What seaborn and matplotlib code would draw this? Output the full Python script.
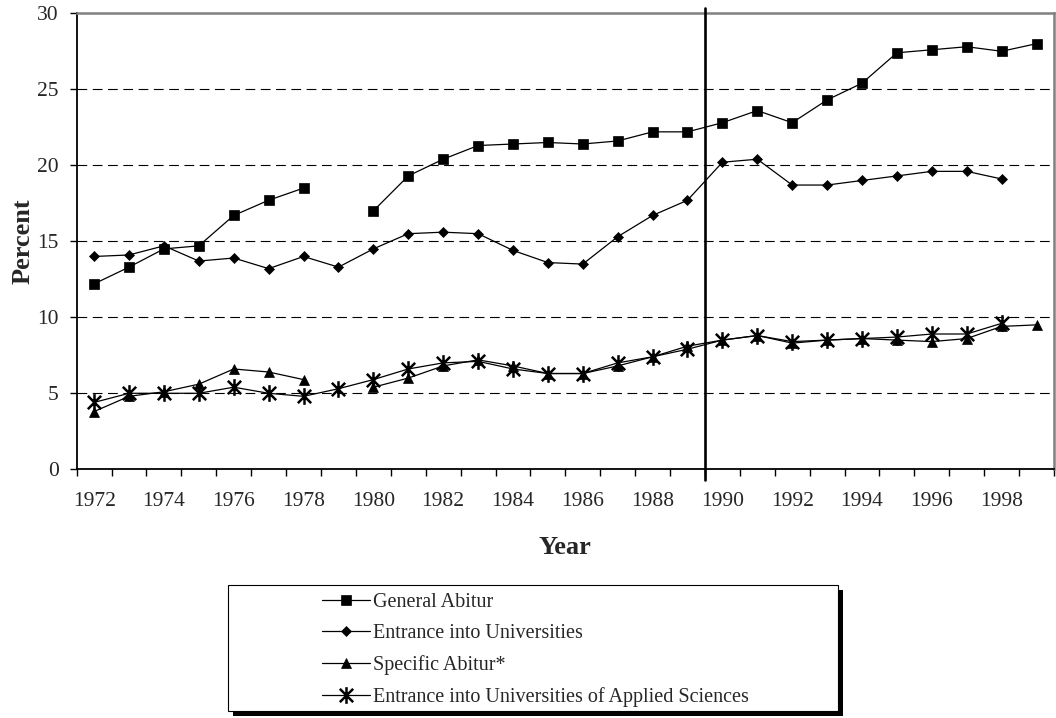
import numpy as np
import pandas as pd
import matplotlib
matplotlib.use("Agg")
import matplotlib.pyplot as plt
from matplotlib.path import Path
from matplotlib.lines import Line2D
from matplotlib.patches import Rectangle
import seaborn as sns

nan = np.nan

years = list(range(1972, 2000))
general_abitur = [12.2, 13.3, 14.5, 14.7, 16.7, 17.7, 18.5, nan, 17.0, 19.3,
                  20.4, 21.3, 21.4, 21.5, 21.4, 21.6, 22.2, 22.2, 22.8, 23.6,
                  22.8, 24.3, 25.4, 27.4, 27.6, 27.8, 27.5, 28.0]
entrance_universities = [14.0, 14.1, 14.7, 13.7, 13.9, 13.2, 14.0, 13.3, 14.5, 15.5,
                         15.6, 15.5, 14.4, 13.6, 13.5, 15.3, 16.7, 17.7, 20.2, 20.4,
                         18.7, 18.7, 19.0, 19.3, 19.6, 19.6, 19.1, nan]
specific_abitur = [3.8, 4.8, 5.1, 5.6, 6.6, 6.4, 5.9, nan, 5.4, 6.0,
                   6.8, 7.2, 6.8, 6.3, 6.3, 6.8, 7.4, 8.1, 8.5, 8.8,
                   8.3, 8.5, 8.6, 8.5, 8.4, 8.6, 9.4, 9.5]
entrance_applied = [4.4, 5.0, 5.0, 5.0, 5.4, 5.0, 4.8, 5.3, 5.9, 6.6,
                    7.0, 7.1, 6.6, 6.3, 6.3, 7.0, 7.4, 7.9, 8.5, 8.8,
                    8.4, 8.5, 8.6, 8.7, 8.9, 8.9, 9.6, nan]

series_names = ["General Abitur", "Entrance into Universities",
                "Specific Abitur*", "Entrance into Universities of Applied Sciences"]
y_ticks = [0, 5, 10, 15, 20, 25, 30]
reunification_year = 1990

# six-armed asterisk: vertical bar plus a diagonal cross
star = Path([(0, -1), (0, 1), (-0.8, -0.8), (0.8, 0.8), (-0.8, 0.8), (0.8, -0.8)],
            [Path.MOVETO, Path.LINETO, Path.MOVETO, Path.LINETO, Path.MOVETO, Path.LINETO])

styles = {
    series_names[0]: dict(marker="s", markersize=7.2, markerfacecolor="black",
                          markeredgecolor="black", markeredgewidth=0.5),
    series_names[1]: dict(marker="D", markersize=5.0, markerfacecolor="black",
                          markeredgecolor="black", markeredgewidth=0.5),
    series_names[2]: dict(marker="^", markersize=7.0, markerfacecolor="black",
                          markeredgecolor="black", markeredgewidth=0.5),
    series_names[3]: dict(marker=star, markersize=12, markerfacecolor="none",
                          markeredgecolor="black", markeredgewidth=1.8),
}

# long-form table; missing years split a series into separate segments
rows = []
for name, vals in zip(series_names,
                      [general_abitur, entrance_universities, specific_abitur, entrance_applied]):
    seg = 0
    prev_missing = False
    for i, (yr, v) in enumerate(zip(years, vals)):
        if np.isnan(v):
            prev_missing = True
            continue
        if prev_missing:
            seg += 1
            prev_missing = False
        rows.append(dict(pos=i, year=yr, value=v, series=name, segment=seg))
df = pd.DataFrame(rows)

sns.set_style("ticks")
plt.rcParams["font.family"] = ["Liberation Serif", "DejaVu Serif"]
plt.rcParams["lines.scale_dashes"] = False

fig = plt.figure(figsize=(10.56, 7.18), dpi=100)
ax = fig.add_axes([0.0726, 0.3464, 0.9255, 0.6351])

# dashed horizontal gridlines (inside the frame only)
for yv in y_ticks[1:-1]:
    ax.axhline(yv, color="black", lw=0.8, ls=(0, (7, 4)), zorder=1)

for name in series_names:
    sub = df[df["series"] == name]
    sns.lineplot(data=sub, x="pos", y="value", units="segment", estimator=None,
                 color="black", lw=0.9, ax=ax, legend=False, zorder=3,
                 **styles[name])

ax.set_xlim(-0.5, len(years) - 0.5)
ax.set_ylim(0, 30)

# category boundaries carry the tick marks, labels sit at category centres
ax.set_xticks(np.arange(-0.5, len(years), 1.0))
ax.set_xticklabels([])
label_pos = list(range(0, len(years), 2))
ax.set_xticks(label_pos, minor=True)
ax.set_xticklabels([str(years[i]) for i in label_pos], minor=True)
ax.tick_params(axis="x", which="major", direction="out", length=5, width=1, color="black")
ax.tick_params(axis="x", which="minor", length=0, pad=16, labelsize=15.5)
ax.set_yticks(y_ticks)
ax.tick_params(axis="y", direction="out", length=5, width=1, color="black",
               pad=8, labelsize=15.5)

for side in ["top", "right"]:
    ax.spines[side].set_color("#808080")
    ax.spines[side].set_linewidth(1.8)
for side in ["left", "bottom"]:
    ax.spines[side].set_color("black")
    ax.spines[side].set_linewidth(1.3)

# reunification marker between 1989 and 1990
xr = years.index(reunification_year) - 0.5
ax.plot([xr, xr], [-0.7, 30.35], color="black", lw=1.9, clip_on=False, zorder=5)

ax.set_xlabel("Year", fontsize=19, fontweight="bold", labelpad=18)
ax.set_ylabel("Percent", fontsize=19, fontweight="bold", labelpad=2)

# legend box with a solid drop shadow
fig.patches.append(Rectangle((233 / 1056, 1 - 716 / 718), 610 / 1056, 126 / 718,
                             transform=fig.transFigure, facecolor="black",
                             edgecolor="none", zorder=0))
fig.patches.append(Rectangle((228 / 1056, 1 - 711 / 718), 610 / 1056, 126 / 718,
                             transform=fig.transFigure, facecolor="white",
                             edgecolor="black", lw=0.8, zorder=1))

handles = [Line2D([], [], color="black", lw=0.9, **{k: v for k, v in styles[n].items()})
           for n in series_names]
leg = fig.legend(handles, series_names, loc="upper left",
                 bbox_to_anchor=(318 / 1056, 1 - 589 / 718), frameon=False,
                 fontsize=14.5, handlelength=2.4, handletextpad=0.15,
                 labelspacing=0.6, borderpad=0.2, borderaxespad=0)
leg.set_zorder(5)

fig.savefig("out.png", dpi=100)
